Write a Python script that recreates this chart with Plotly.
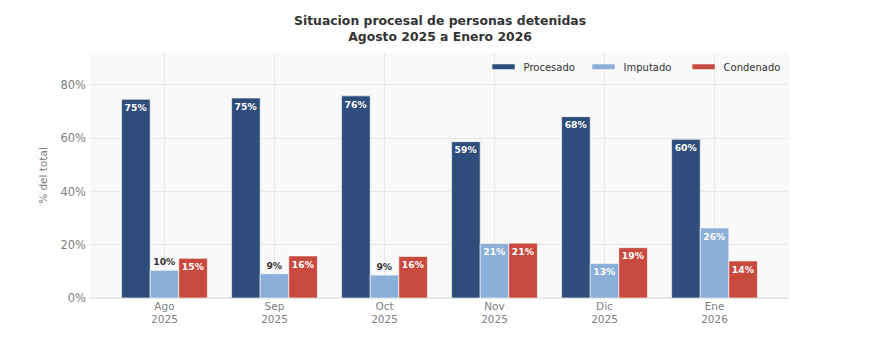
import plotly.graph_objects as go

# Monthly categories (two-line tick labels)
meses = ["Ago<br>2025", "Sep<br>2025", "Oct<br>2025", "Nov<br>2025", "Dic<br>2025", "Ene<br>2026"]

# Share of detainees by procedural status (% of total)
procesado = [74.6, 75.1, 75.9, 58.7, 68.1, 59.6]
imputado = [10.4, 9.1, 8.6, 20.5, 13.0, 26.3]
condenado = [14.9, 15.8, 15.6, 20.6, 18.9, 13.9]

series = [
    ("Procesado", procesado, "#2f4d7a"),
    ("Imputado", imputado, "#8aafd8"),
    ("Condenado", condenado, "#c84a3e"),
]

titulo = "Situacion procesal de personas detenidas"
subtitulo = "Agosto 2025 a Enero 2026"

FONT = "DejaVu Sans"

fig = go.Figure()
for nombre, valores, color in series:
    # Small bars get their label above the bar in dark text
    posiciones = ["outside" if v < 12 else "inside" for v in valores]
    colores_txt = ["#333333" if v < 12 else "white" for v in valores]
    fig.add_trace(go.Bar(
        name=nombre,
        x=meses,
        y=valores,
        showlegend=False,
        marker=dict(color=color, line=dict(color="rgba(255,255,255,0.6)", width=1)),
        texttemplate="<b>%{y:.0f}%</b>",
        textposition=posiciones,
        textangle=0,
        insidetextanchor="end",
        textfont=dict(family=FONT, size=9.5, color=colores_txt),
        cliponaxis=False,
        hovertemplate="%{x}: %{y:.1f}%<extra>" + nombre + "</extra>",
    ))

# Legend entries drawn as wide colour swatches
for nombre, valores, color in series:
    fig.add_trace(go.Scatter(
        name=nombre,
        x=[None], y=[None],
        mode="markers",
        marker=dict(symbol="line-ew", size=19, color=color,
                    line=dict(color=color, width=7)),
        hoverinfo="skip",
    ))

# Two-line centred heading
fig.add_annotation(
    text="<b>" + titulo + "<br>" + subtitulo + "</b>",
    xref="paper", yref="paper",
    x=0.5, y=1.100,
    xanchor="center", yanchor="middle",
    showarrow=False,
    font=dict(family=FONT, size=12.4, color="#333333"),
)

fig.update_layout(
    width=880,
    height=348,
    margin=dict(l=90, r=91, t=53, b=50),
    paper_bgcolor="white",
    plot_bgcolor="#f9f9f9",
    barmode="group",
    bargap=0.22,
    bargroupgap=0,
    uniformtext=dict(minsize=8, mode="show"),
    font=dict(family=FONT, color="#333333"),
    legend=dict(
        orientation="h",
        x=0.563, xanchor="left",
        y=1.003, yanchor="top",
        bgcolor="rgba(0,0,0,0)",
        font=dict(family=FONT, size=10, color="#333333"),
        traceorder="normal",
        itemsizing="trace",
        entrywidth=55,
        entrywidthmode="pixels",
    ),
    xaxis=dict(
        range=[-0.677, 5.677],
        showgrid=True,
        gridcolor="#e8e8e8",
        tickfont=dict(family=FONT, size=10.5, color="#808080"),
        ticks="",
        zeroline=False,
        showline=False,
    ),
    yaxis=dict(
        range=[0, 92],
        dtick=20,
        ticksuffix="%",
        showgrid=True,
        gridcolor="#e8e8e8",
        zeroline=True,
        zerolinecolor="#e8e8e8",
        ticklabelstandoff=3,
        tickfont=dict(family=FONT, size=11.5, color="#808080"),
        title=dict(text="% del total", font=dict(family=FONT, size=10.5, color="#808080"), standoff=10),
        showline=False,
    ),
)

fig.write_html("out.html")
